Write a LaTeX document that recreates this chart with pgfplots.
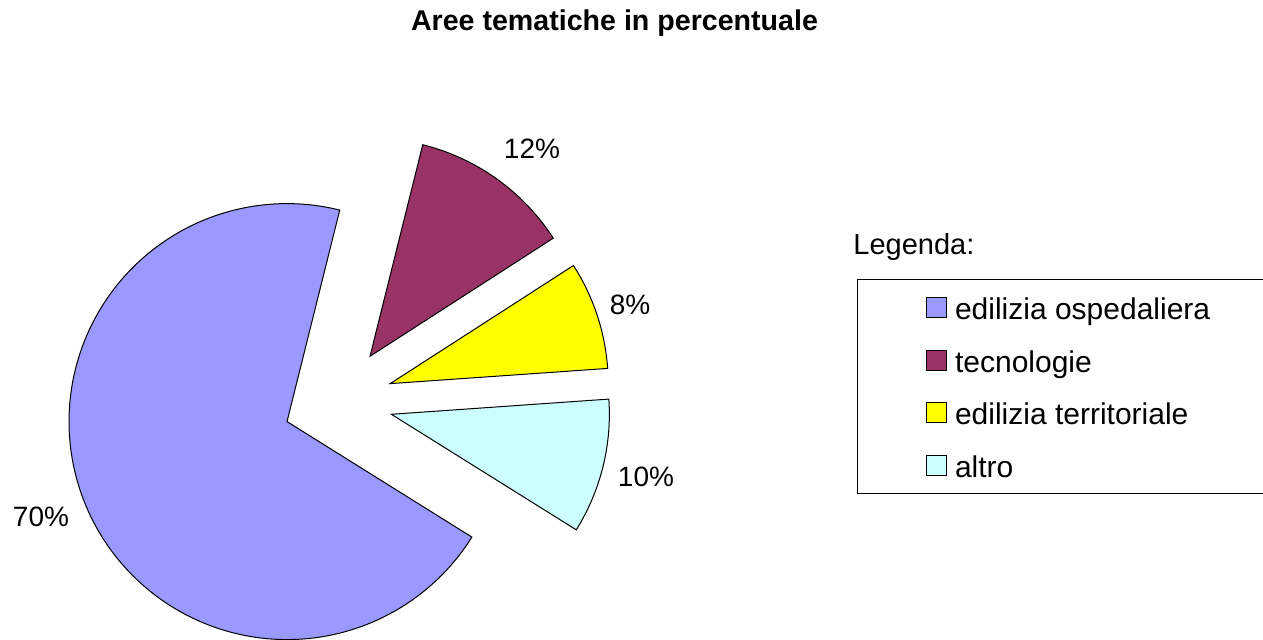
\documentclass[border=0pt]{standalone}
\usepackage{fontspec}
\setmainfont{Liberation Sans}
\usepackage{pgfplots}
\pgfplotsset{compat=1.18}

\definecolor{ospedaliera}{HTML}{9999FF}
\definecolor{tecnologie}{HTML}{993366}
\definecolor{territoriale}{HTML}{FFFF00}
\definecolor{altro}{HTML}{CCFFFF}

% shares in percent
\def\vOsp{70}
\def\vTec{12}
\def\vTer{8}
\def\vAlt{10}

% pie geometry in canvas units (1 unit = 0.5pt)
\def\cx{338}\def\cy{239}\def\rad{218}\def\expl{55}
% slices run counter-clockwise, starting with "altro"
\pgfmathsetmacro{\aA}{-32}
\pgfmathsetmacro{\aB}{\aA+3.6*\vAlt}
\pgfmathsetmacro{\aC}{\aB+3.6*\vTer}
\pgfmathsetmacro{\aD}{\aC+3.6*\vTec}
\pgfmathsetmacro{\aE}{\aD+3.6*\vOsp}
% every slice is pulled out along its bisector
\pgfmathsetmacro{\mAlt}{(\aA+\aB)/2}
\pgfmathsetmacro{\xAlt}{\cx+\expl*cos(\mAlt)}
\pgfmathsetmacro{\yAlt}{\cy+\expl*sin(\mAlt)}
\pgfmathsetmacro{\mTer}{(\aB+\aC)/2}
\pgfmathsetmacro{\xTer}{\cx+\expl*cos(\mTer)}
\pgfmathsetmacro{\yTer}{\cy+\expl*sin(\mTer)}
\pgfmathsetmacro{\mTec}{(\aC+\aD)/2}
\pgfmathsetmacro{\xTec}{\cx+\expl*cos(\mTec)}
\pgfmathsetmacro{\yTec}{\cy+\expl*sin(\mTec)}
\pgfmathsetmacro{\mOsp}{(\aD+\aE)/2}
\pgfmathsetmacro{\xOsp}{\cx+\expl*cos(\mOsp)}
\pgfmathsetmacro{\yOsp}{\cy+\expl*sin(\mOsp)}

\begin{document}
\begin{tikzpicture}
\begin{axis}[
  scale only axis,
  width=631.5pt, height=320pt,
  xmin=0, xmax=1263, ymin=0, ymax=640,
  hide axis, clip=false,
  no markers,
  legend cell align=left,
  legend image code/.code={\draw[#1] (0pt,-5pt) rectangle (10pt,5pt);},
  legend style={
    at={(0.6785,0.5641)}, anchor=north west,
    draw=black, line width=0.5pt,
    inner xsep=34.5pt, inner ysep=3pt,
    column sep=3.8pt, row sep=4.35pt,
    font=\fontsize{15}{17}\selectfont,
    nodes={inner sep=0pt, text height=17pt, text depth=5pt},
    column 2/.style={nodes={text width=170pt, align=left}},
  },
]
\addplot[fill=ospedaliera, draw=black, line width=0.5pt,
  domain=\aD:\aE, samples=160, variable=\t]
  ({\xOsp+\rad*cos(\t)}, {\yOsp+\rad*sin(\t)}) -- (axis cs:\xOsp,\yOsp) -- cycle;
\addlegendentry{edilizia ospedaliera}
\addplot[fill=tecnologie, draw=black, line width=0.5pt,
  domain=\aC:\aD, samples=40, variable=\t]
  ({\xTec+\rad*cos(\t)}, {\yTec+\rad*sin(\t)}) -- (axis cs:\xTec,\yTec) -- cycle;
\addlegendentry{tecnologie}
\addplot[fill=territoriale, draw=black, line width=0.5pt,
  domain=\aB:\aC, samples=30, variable=\t]
  ({\xTer+\rad*cos(\t)}, {\yTer+\rad*sin(\t)}) -- (axis cs:\xTer,\yTer) -- cycle;
\addlegendentry{edilizia territoriale}
\addplot[fill=altro, draw=black, line width=0.5pt,
  domain=\aA:\aB, samples=36, variable=\t]
  ({\xAlt+\rad*cos(\t)}, {\yAlt+\rad*sin(\t)}) -- (axis cs:\xAlt,\yAlt) -- cycle;
\addlegendentry{altro}

% percentage labels
\node[anchor=base, font=\fontsize{14}{17}\selectfont] at (axis cs:41,113) {\vOsp\%};
\node[anchor=base, font=\fontsize{14}{17}\selectfont] at (axis cs:532,481) {\vTec\%};
\node[anchor=base, font=\fontsize{14}{17}\selectfont] at (axis cs:630,325) {\vTer\%};
\node[anchor=base, font=\fontsize{14}{17}\selectfont] at (axis cs:646,153) {\vAlt\%};

% title and legend heading
\node[anchor=base, font=\bfseries\fontsize{14.3}{17}\selectfont] at (axis cs:614.5,609) {Aree tematiche in percentuale};
\node[anchor=base west, inner sep=0pt, font=\fontsize{14.5}{17}\selectfont] at (axis cs:853,385) {Legenda:};
\end{axis}
\pgfresetboundingbox
\path[use as bounding box] (0,0) rectangle (631.5pt,320pt);
\end{tikzpicture}
\end{document}
